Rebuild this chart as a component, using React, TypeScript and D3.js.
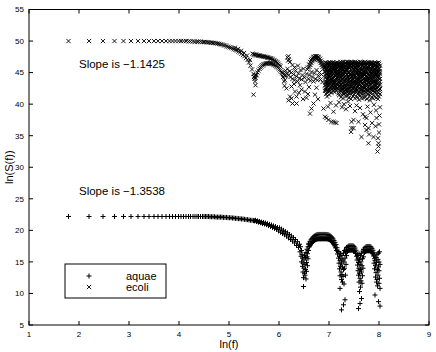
import React from 'react';
import * as d3 from 'd3';

const xTicks = [1, 2, 3, 4, 5, 6, 7, 8, 9];
const yTicks = [5, 10, 15, 20, 25, 30, 35, 40, 45, 50, 55];

// ---------- aquae (+) ----------
const aquaeFlat: number[][] = [
  [1.79, 22.2], [2.2, 22.2], [2.48, 22.2], [2.71, 22.2], [2.89, 22.2], [3.04, 22.2], [3.18, 22.2], [3.3, 22.2],
  [3.4, 22.2], [3.5, 22.2], [3.58, 22.2], [3.66, 22.2], [3.74, 22.2], [3.81, 22.2], [3.87, 22.2], [3.93, 22.2],
  [3.99, 22.2], [4.04, 22.2], [4.09, 22.2], [4.14, 22.2], [4.19, 22.2], [4.23, 22.2], [4.28, 22.2], [4.32, 22.2],
  [4.36, 22.2], [4.39, 22.2], [4.43, 22.2], [4.47, 22.2], [4.5, 22.2],
];
const aquaeKnee: number[][] = [
  [4.53, 22.2], [4.56, 22.2], [4.59, 22.2], [4.62, 22.15], [4.65, 22.15], [4.68, 22.15], [4.71, 22.15], [4.74, 22.1],
  [4.77, 22.1], [4.8, 22.1], [4.83, 22.1], [4.86, 22.1], [4.89, 22.05], [4.92, 22.05], [4.95, 22.05], [4.98, 22.0],
  [5.01, 22.0], [5.04, 22.0], [5.07, 21.95], [5.1, 21.95], [5.13, 21.9], [5.16, 21.9], [5.19, 21.85], [5.22, 21.85],
  [5.25, 21.8], [5.28, 21.8], [5.31, 21.75], [5.34, 21.7], [5.37, 21.7], [5.4, 21.65], [5.43, 21.6], [5.46, 21.6],
  [5.49, 21.55], [5.51, 21.5], [5.53, 21.6], [5.55, 21.4], [5.57, 21.5], [5.59, 21.3], [5.61, 21.4], [5.63, 21.2],
  [5.65, 21.3], [5.67, 21.1], [5.69, 21.25], [5.71, 21.0], [5.73, 21.15], [5.75, 20.9], [5.77, 21.05], [5.79, 20.75],
  [5.81, 20.95], [5.83, 20.6], [5.85, 20.85], [5.87, 20.45], [5.89, 20.7], [5.91, 20.3], [5.93, 20.6], [5.95, 20.15],
  [5.97, 20.45], [5.99, 19.9], [6.01, 20.4], [6.03, 19.7], [6.05, 20.2], [6.07, 19.5], [6.09, 20.0], [6.11, 19.3],
  [6.13, 19.8], [6.15, 19.1], [6.17, 19.6], [6.19, 18.8], [6.21, 19.35], [6.23, 18.55], [6.25, 19.1], [6.27, 18.3],
  [6.29, 18.85], [6.31, 18.0], [6.33, 18.55], [6.35, 17.6], [6.37, 18.2], [6.39, 17.3], [6.41, 17.8],
];
const aquaeDip1: number[][] = [
  [6.42, 16.6], [6.43, 17.4], [6.44, 15.9], [6.45, 16.8], [6.45, 15.0], [6.46, 16.2], [6.47, 14.3], [6.47, 15.6],
  [6.48, 13.4], [6.48, 14.8], [6.49, 11.1], [6.49, 12.5], [6.5, 14.0], [6.5, 15.3], [6.51, 13.2], [6.51, 16.0],
  [6.52, 12.9], [6.52, 14.6], [6.53, 15.7], [6.53, 13.8], [6.54, 12.3], [6.54, 16.5], [6.55, 14.9], [6.55, 13.5],
  [6.56, 15.8], [6.56, 17.0], [6.57, 14.4], [6.57, 16.3], [6.58, 17.4], [6.58, 15.5], [6.59, 16.8], [6.59, 17.8],
];
const aquaeArch1: number[][] = [
  [6.6, 17.95], [6.61, 17.4], [6.62, 18.25], [6.63, 17.68], [6.64, 18.5], [6.65, 17.9], [6.66, 18.7], [6.67, 18.1],
  [6.68, 18.9], [6.69, 18.27], [6.7, 19.05], [6.71, 18.4], [6.72, 19.15], [6.73, 18.5], [6.74, 19.25], [6.75, 18.57],
  [6.76, 19.3], [6.77, 18.62], [6.78, 19.35], [6.79, 18.65], [6.8, 19.35], [6.81, 18.65], [6.82, 19.35], [6.83, 18.65],
  [6.84, 19.35], [6.85, 18.65], [6.86, 19.35], [6.87, 18.65], [6.88, 19.35], [6.89, 18.65], [6.9, 19.35], [6.91, 18.65],
  [6.92, 19.35], [6.93, 18.65], [6.94, 19.35], [6.95, 18.65], [6.96, 19.33], [6.97, 18.62], [6.98, 19.3], [6.99, 18.57],
  [7.0, 19.25], [7.01, 18.5], [7.02, 19.15], [7.03, 18.37], [7.04, 19.0], [7.05, 18.23], [7.06, 18.85], [7.07, 18.05],
  [7.08, 18.65], [7.09, 17.83], [7.1, 18.4], [7.11, 17.55], [7.12, 18.1], [7.13, 17.23], [7.14, 17.75], [7.15, 16.8],
  [7.16, 17.25], [7.17, 16.25], [7.18, 16.65],
];
const aquaeDip2: number[][] = [
  [7.19, 15.6], [7.2, 16.6], [7.2, 14.8], [7.21, 15.9], [7.21, 13.9], [7.22, 15.2], [7.22, 12.8], [7.22, 10.8],
  [7.23, 14.3], [7.23, 16.3], [7.24, 13.4], [7.24, 15.5], [7.25, 7.4], [7.25, 12.2], [7.25, 14.8], [7.26, 13.0],
  [7.26, 16.0], [7.27, 11.8], [7.27, 14.2], [7.28, 15.3], [7.28, 12.7], [7.29, 8.2], [7.29, 13.8], [7.29, 16.4],
  [7.3, 11.5], [7.3, 15.0], [7.31, 14.0], [7.31, 16.8], [7.32, 9.0], [7.32, 15.6], [7.33, 12.9], [7.33, 16.5],
  [7.34, 14.6], [7.34, 17.0], [7.35, 16.0], [7.35, 17.3],
];
const aquaeArch2: number[][] = [
  [7.36, 17.25], [7.37, 16.65], [7.38, 17.45], [7.39, 16.8], [7.4, 17.55], [7.41, 16.85], [7.42, 17.55], [7.43, 16.85],
  [7.44, 17.55], [7.45, 16.85], [7.46, 17.55], [7.47, 16.85], [7.48, 17.55], [7.49, 16.8], [7.5, 17.45], [7.51, 16.65],
  [7.52, 17.2], [7.53, 16.35], [7.54, 16.85], [7.55, 15.9], [7.56, 16.3],
];
const aquaeDip3: number[][] = [
  [7.56, 15.3], [7.57, 16.1], [7.57, 14.5], [7.58, 15.6], [7.58, 13.6], [7.59, 7.6], [7.59, 12.9], [7.59, 14.9],
  [7.6, 16.3], [7.6, 11.8], [7.6, 14.0], [7.61, 10.3], [7.61, 13.2], [7.61, 15.4], [7.62, 8.4], [7.62, 12.4],
  [7.62, 14.6], [7.63, 11.0], [7.63, 13.8], [7.63, 16.0], [7.64, 12.0], [7.64, 15.0], [7.65, 9.2], [7.65, 13.4],
  [7.65, 16.4], [7.66, 14.4], [7.66, 11.6], [7.67, 15.5], [7.67, 12.8], [7.68, 16.7], [7.68, 14.0], [7.69, 15.8],
  [7.69, 17.0],
];
const aquaeArch3: number[][] = [
  [7.7, 16.95], [7.71, 16.45], [7.72, 17.25], [7.73, 16.65], [7.74, 17.4], [7.75, 16.75], [7.76, 17.45], [7.77, 16.75],
  [7.78, 17.45], [7.79, 16.75], [7.8, 17.45], [7.81, 16.75], [7.82, 17.45], [7.83, 16.7], [7.84, 17.35], [7.85, 16.55],
  [7.86, 17.15], [7.87, 16.3], [7.88, 16.85], [7.89, 15.95], [7.9, 16.45], [7.91, 15.5], [7.92, 15.95],
];
const aquaeTail: number[][] = [
  [7.9, 14.8], [7.91, 13.9], [7.92, 15.2], [7.92, 9.75], [7.93, 14.4], [7.93, 12.6], [7.94, 15.7], [7.94, 13.3],
  [7.95, 11.8], [7.95, 14.9], [7.96, 16.2], [7.96, 12.2], [7.97, 13.8], [7.97, 11.2], [7.98, 15.4], [7.98, 12.9],
  [7.99, 8.7], [7.99, 14.2], [7.99, 16.4], [8.0, 11.6], [8.0, 13.6], [8.0, 15.0], [8.01, 12.4], [8.01, 16.6],
  [8.02, 8.0], [8.02, 14.6], [8.02, 10.8],
];

// ---------- ecoli (x) ----------
const ecoliFlat: number[][] = [
  [1.79, 50.0], [2.2, 50.0], [2.48, 50.0], [2.71, 50.0], [2.89, 50.0], [3.04, 50.0], [3.18, 50.0], [3.3, 50.0],
  [3.4, 50.0], [3.5, 50.0], [3.58, 50.0], [3.66, 50.0], [3.74, 50.0], [3.81, 50.0], [3.87, 50.0], [3.93, 50.0],
  [3.99, 50.0], [4.04, 50.0], [4.09, 50.0], [4.14, 50.0], [4.19, 49.95], [4.23, 49.95], [4.28, 49.95], [4.32, 49.9],
  [4.36, 49.9], [4.39, 49.9], [4.43, 49.9], [4.47, 49.85], [4.5, 49.85],
];
const ecoliKnee: number[][] = [
  [4.53, 49.85], [4.56, 49.8], [4.59, 49.8], [4.62, 49.75], [4.65, 49.75], [4.68, 49.7], [4.71, 49.7], [4.74, 49.65],
  [4.77, 49.6], [4.8, 49.55], [4.83, 49.5], [4.86, 49.45], [4.89, 49.35], [4.92, 49.3], [4.95, 49.2], [4.98, 49.1],
  [5.01, 49.0], [5.04, 48.95], [5.07, 48.85], [5.1, 48.7], [5.12, 48.95], [5.13, 48.6], [5.16, 48.5], [5.18, 48.75],
  [5.19, 48.35], [5.22, 48.2], [5.24, 48.45], [5.25, 48.0], [5.28, 47.8], [5.3, 48.1], [5.31, 47.6], [5.34, 47.3],
  [5.36, 47.7], [5.37, 47.0], [5.4, 46.6], [5.42, 47.0], [5.43, 46.1], [5.46, 45.5], [5.49, 44.8],
];
const ecoliDip: number[][] = [
  [5.5, 44.3], [5.51, 44.0], [5.52, 43.6], [5.52, 44.5], [5.53, 43.0], [5.49, 41.5], [5.53, 44.2], [5.54, 44.6],
];
const ecoliBranchA: number[][] = [
  [5.47, 48.0], [5.49, 47.9], [5.51, 47.85], [5.53, 47.8], [5.55, 47.8], [5.57, 47.75], [5.59, 47.7], [5.61, 47.7],
  [5.63, 47.65], [5.65, 47.6], [5.67, 47.6], [5.69, 47.55], [5.71, 47.5], [5.73, 47.5], [5.75, 47.45], [5.77, 47.4],
  [5.79, 47.35], [5.81, 47.3], [5.83, 47.25], [5.85, 47.2], [5.87, 47.1], [5.89, 47.0], [5.91, 46.9], [5.93, 46.8],
  [5.95, 46.7], [5.97, 46.55], [5.99, 46.4], [6.01, 46.2], [6.03, 46.0],
];
const ecoliBranchB: number[][] = [
  [5.55, 44.6], [5.57, 45.0], [5.59, 45.3], [5.61, 45.6], [5.63, 45.8], [5.65, 46.0], [5.67, 46.15], [5.69, 46.25],
  [5.71, 46.35], [5.73, 46.4], [5.75, 46.45], [5.77, 46.5], [5.79, 46.5], [5.81, 46.5], [5.83, 46.45], [5.85, 46.4],
  [5.87, 46.35], [5.89, 46.3], [5.91, 46.2], [5.93, 46.1], [5.95, 46.0], [5.97, 45.85], [5.99, 45.7], [6.01, 45.5],
  [6.03, 45.3], [6.05, 45.1], [6.07, 44.9], [6.09, 44.7], [6.11, 44.5],
];
const ecoliMid: number[][] = [
  [6.17, 47.4], [6.19, 47.6], [6.2, 47.1], [6.22, 46.7], [6.18, 46.9], [6.06, 45.0], [6.08, 44.3], [6.1, 43.6],
  [6.11, 42.9], [6.12, 43.8], [6.14, 44.5], [6.13, 45.3], [6.15, 44.9], [6.17, 45.6], [6.19, 44.6], [6.21, 45.2],
  [6.23, 44.3], [6.25, 45.0], [6.27, 44.0], [6.29, 44.7], [6.31, 43.8], [6.33, 45.3], [6.35, 44.4], [6.37, 43.6],
  [6.39, 44.9], [6.41, 44.1], [6.43, 45.4], [6.45, 43.9], [6.47, 44.6], [6.49, 45.6], [6.51, 44.2], [6.53, 43.5],
  [6.55, 44.8], [6.57, 45.5], [6.59, 44.0], [6.61, 44.6], [6.63, 43.7], [6.65, 45.1], [6.67, 44.3], [6.69, 43.6],
  [6.71, 44.9], [6.73, 44.0], [6.75, 45.4], [6.77, 43.8], [6.79, 44.5], [6.81, 45.0], [6.83, 43.9], [6.85, 44.7],
  [6.87, 43.5], [6.15, 42.5], [6.25, 42.8], [6.22, 41.2], [6.32, 42.0], [6.35, 41.2], [6.35, 40.1], [6.52, 42.0],
  [6.69, 40.1], [6.65, 39.3], [6.62, 38.5], [6.19, 40.6], [6.25, 40.9], [6.27, 40.1], [6.42, 43.0], [6.45, 42.3],
  [6.58, 41.6], [6.6, 42.7], [6.3, 43.2], [6.4, 41.8], [6.48, 40.8], [6.55, 41.0], [6.72, 41.5], [6.75, 42.6],
  [6.78, 40.8], [6.27, 46.2], [6.31, 45.8], [6.38, 46.1],
];
const ecoliBlob: number[][] = [
  [6.58, 45.8], [6.6, 46.3], [6.61, 45.9], [6.62, 46.7], [6.63, 46.2], [6.64, 47.0], [6.65, 46.5], [6.66, 47.2],
  [6.67, 46.8], [6.68, 47.4], [6.69, 47.0], [6.7, 47.5], [6.71, 47.1], [6.72, 47.6], [6.73, 47.2], [6.74, 47.6],
  [6.75, 47.3], [6.76, 47.6], [6.77, 47.2], [6.78, 47.5], [6.79, 47.0], [6.8, 47.4], [6.81, 46.8], [6.82, 47.2],
  [6.83, 46.5], [6.84, 46.9], [6.85, 46.2], [6.86, 46.6], [6.87, 45.9], [6.88, 46.3], [6.89, 45.6], [6.9, 46.0],
];
// dense cloud: each row is [ln f, S values read in that narrow frequency column]
const ecoliCloud: [number, number[]][] = [
  [6.92, [46.4, 45.1, 44.2, 43.0, 42.1, 45.7]], [6.93, [45.9, 44.6, 43.4, 42.3, 46.6]],
  [6.94, [46.2, 44.8, 43.6, 42.5, 45.5, 41.6]], [6.95, [45.6, 44.3, 43.1, 46.1, 42.6]],
  [6.96, [46.5, 45.3, 44.0, 42.8, 43.5, 41.2]], [6.97, [46.3, 45.0, 43.9, 42.2, 44.8]],
  [6.98, [46.0, 44.6, 43.2, 45.8, 42.0, 44.1]], [6.99, [45.4, 44.4, 42.9, 46.5, 43.6]],
  [7.0, [46.6, 45.0, 43.8, 42.4, 44.5, 41.5]], [7.01, [46.1, 44.2, 43.3, 45.3, 42.0]],
  [7.02, [46.3, 45.6, 44.3, 43.1, 42.2, 46.0]], [7.03, [45.8, 44.7, 43.8, 42.5, 46.6]],
  [7.04, [46.5, 44.9, 43.5, 45.4, 42.7, 44.0]], [7.05, [46.4, 45.1, 43.0, 44.4, 41.8]],
  [7.06, [46.1, 45.2, 44.6, 43.3, 42.9, 45.8]], [7.07, [45.5, 44.0, 46.6, 43.6, 42.4]],
  [7.08, [46.6, 45.5, 44.1, 43.7, 42.5, 46.2]], [7.09, [46.0, 44.9, 43.2, 45.6, 42.1]],
  [7.1, [46.2, 44.7, 45.9, 43.4, 42.8, 44.3]], [7.11, [46.4, 45.3, 44.2, 43.5, 41.9]],
  [7.12, [46.5, 45.1, 44.5, 43.0, 45.6, 42.4]], [7.13, [45.7, 44.6, 43.4, 46.2, 42.7]],
  [7.14, [46.0, 45.4, 44.0, 43.6, 42.9, 46.4]], [7.15, [46.5, 45.0, 43.9, 42.2, 44.7]],
  [7.16, [46.6, 44.8, 45.7, 43.2, 42.6, 44.2]], [7.17, [45.9, 44.4, 43.0, 46.3, 42.5]],
  [7.18, [46.3, 45.3, 44.4, 43.8, 42.3, 45.0]], [7.19, [46.2, 45.5, 43.6, 44.9, 41.7]],
  [7.2, [46.5, 45.9, 44.7, 43.5, 42.8, 41.4]], [7.21, [45.6, 44.5, 43.3, 46.4, 42.9]],
  [7.22, [46.1, 45.0, 44.1, 43.0, 45.5, 42.2]], [7.23, [46.7, 45.2, 43.7, 42.6, 44.3]],
  [7.24, [46.6, 45.6, 44.6, 43.7, 42.0, 41.1]], [7.25, [45.8, 44.8, 43.1, 46.0, 42.3]],
  [7.26, [46.2, 44.9, 45.3, 43.3, 42.6, 41.5]], [7.27, [46.4, 45.7, 44.0, 42.8, 43.9]],
  [7.28, [46.7, 45.4, 44.2, 43.9, 42.4, 40.9]], [7.29, [45.5, 44.6, 43.5, 46.2, 41.8]],
  [7.3, [46.3, 45.8, 44.8, 43.4, 42.1, 41.6]], [7.31, [46.0, 44.3, 43.0, 45.2, 42.6]],
  [7.32, [46.5, 45.1, 44.4, 43.0, 41.8, 42.7]], [7.33, [46.6, 45.4, 43.8, 42.3, 44.9]],
  [7.34, [46.0, 45.6, 44.0, 43.6, 42.3, 41.2]], [7.35, [45.7, 44.7, 43.3, 46.4, 42.0]],
  [7.36, [46.7, 45.3, 44.7, 43.2, 41.9, 42.8]], [7.37, [46.2, 45.9, 44.2, 43.7, 42.4]],
  [7.38, [46.4, 45.0, 44.3, 43.8, 42.5, 41.4]], [7.39, [45.8, 44.5, 43.1, 46.6, 41.7]],
  [7.4, [46.6, 45.7, 44.9, 43.5, 42.0, 41.0]], [7.41, [46.1, 45.0, 43.9, 42.7, 44.4]],
  [7.42, [46.2, 45.2, 44.1, 43.1, 42.6, 41.7]], [7.43, [46.5, 44.8, 43.6, 45.9, 42.2]],
  [7.44, [46.7, 45.5, 44.6, 43.7, 42.2, 40.8]], [7.45, [45.9, 44.3, 43.2, 46.3, 42.8]],
  [7.46, [46.3, 45.9, 44.4, 43.3, 41.8, 42.9]], [7.47, [46.6, 45.1, 44.0, 42.5, 43.8]],
  [7.48, [46.6, 45.0, 44.8, 43.9, 42.4, 41.3]], [7.49, [45.6, 44.6, 43.4, 46.1, 42.0]],
  [7.5, [46.1, 45.4, 44.2, 43.4, 42.7, 41.5]], [7.51, [46.4, 45.6, 43.7, 42.9, 44.5]],
  [7.52, [46.7, 45.8, 44.5, 43.0, 42.1, 40.9]], [7.53, [45.9, 44.9, 43.3, 46.5, 42.4]],
  [7.54, [46.4, 45.2, 44.9, 43.6, 41.9, 42.6]], [7.55, [46.2, 44.4, 43.9, 45.5, 42.2]],
  [7.56, [46.6, 45.5, 44.0, 43.2, 42.3, 41.1]], [7.57, [45.7, 45.0, 43.5, 46.4, 42.7]],
  [7.58, [46.2, 45.9, 44.6, 43.8, 42.8, 41.6]], [7.59, [46.5, 44.7, 43.1, 45.3, 41.8]],
  [7.6, [46.5, 45.1, 44.3, 43.4, 42.0, 40.7]], [7.61, [46.0, 45.7, 44.1, 42.6, 43.9]],
  [7.62, [46.7, 45.6, 44.7, 43.1, 42.5, 41.3]], [7.63, [45.8, 44.5, 43.6, 46.3, 42.2]],
  [7.64, [46.3, 45.0, 44.2, 43.7, 41.8, 42.9]], [7.65, [46.6, 45.3, 43.3, 44.6, 42.4]],
  [7.66, [46.6, 45.4, 44.8, 43.3, 42.2, 40.9]], [7.67, [45.6, 44.8, 43.8, 46.1, 42.8]],
  [7.68, [46.1, 45.8, 44.4, 43.9, 42.6, 41.5]], [7.69, [46.4, 45.2, 43.0, 44.7, 41.9]],
  [7.7, [46.5, 45.2, 44.0, 43.5, 42.1, 41.0]], [7.71, [45.9, 44.6, 43.4, 46.6, 42.5]],
  [7.72, [46.7, 45.7, 44.6, 43.0, 42.7, 41.4]], [7.73, [46.2, 45.0, 43.9, 42.3, 44.4]],
  [7.74, [46.2, 45.3, 44.9, 43.6, 41.9, 42.4]], [7.75, [46.5, 44.5, 43.2, 45.8, 42.8]],
  [7.76, [46.6, 45.0, 44.3, 43.2, 42.3, 40.8]], [7.77, [45.7, 45.5, 43.7, 42.6, 44.1]],
  [7.78, [46.4, 45.9, 44.7, 43.8, 42.0, 41.6]], [7.79, [46.1, 44.8, 43.4, 46.6, 42.2]],
  [7.8, [46.0, 45.5, 44.1, 43.4, 42.8, 41.2]], [7.81, [46.5, 45.2, 43.9, 42.5, 44.6]],
  [7.82, [46.6, 45.1, 44.5, 43.1, 42.4, 40.6]], [7.83, [45.8, 44.4, 43.3, 46.2, 41.7]],
  [7.84, [46.3, 45.6, 44.8, 43.7, 41.8, 42.2]], [7.85, [46.6, 45.0, 44.0, 42.7, 43.5]],
  [7.86, [46.5, 45.2, 44.0, 43.3, 42.6, 41.1]], [7.87, [45.9, 45.7, 44.3, 46.4, 42.3]],
  [7.88, [46.1, 45.8, 44.4, 43.9, 42.1, 40.9]], [7.89, [46.4, 44.6, 43.6, 45.1, 42.7]],
  [7.9, [46.4, 45.3, 44.7, 43.5, 42.5, 41.4]], [7.91, [45.6, 44.9, 43.2, 46.1, 41.9]],
  [7.92, [46.6, 45.0, 44.2, 43.0, 41.9, 42.8]], [7.93, [46.2, 45.4, 43.8, 42.4, 44.5]],
  [7.94, [46.2, 45.7, 44.6, 43.6, 42.3, 41.0]], [7.95, [46.5, 44.7, 43.4, 45.9, 42.6]],
  [7.96, [46.5, 45.4, 44.9, 43.2, 42.0, 41.5]], [7.97, [45.8, 45.1, 43.9, 42.8, 44.2]],
  [7.98, [46.0, 45.1, 44.3, 43.8, 42.7, 40.8]], [7.99, [46.3, 44.5, 43.0, 46.6, 41.8]],
  [8.0, [46.4, 45.6, 44.5, 43.4, 42.2, 41.2]], [8.01, [45.7, 45.2, 43.6, 42.5, 44.8]],
  [8.02, [46.1, 45.0, 44.0, 43.1, 42.4, 41.6]],
];
const ecoliScatter: number[][] = [
  [6.89, 39.3], [6.92, 38.0], [6.95, 37.8], [6.99, 37.5], [7.05, 37.2], [7.09, 38.8], [7.09, 37.2], [7.12, 37.1],
  [7.15, 37.0], [6.98, 39.6], [7.03, 40.2], [7.14, 39.8], [7.2, 40.3], [7.26, 39.5], [7.3, 40.0], [7.34, 39.2],
  [7.38, 40.4], [7.42, 39.7], [7.45, 37.2], [7.45, 36.2], [7.44, 35.6], [7.49, 37.5], [7.49, 36.2], [7.52, 38.9],
  [7.55, 39.8], [7.59, 37.2], [7.62, 39.4], [7.65, 34.8], [7.68, 38.4], [7.72, 38.0], [7.72, 36.7], [7.75, 37.8],
  [7.75, 35.9], [7.77, 39.6], [7.79, 36.2], [7.79, 33.8], [7.8, 35.2], [7.83, 38.7], [7.86, 37.0], [7.89, 34.8],
  [7.9, 39.9], [7.93, 36.5], [7.95, 37.8], [7.97, 32.5], [7.99, 33.3], [7.99, 33.8], [8.0, 35.5], [8.01, 38.2],
  [8.0, 36.8], [8.02, 39.5], [7.98, 34.6], [7.94, 39.0],
];

const FONT = "'Liberation Sans', Arial, Helvetica, sans-serif";

export default function App() {
  const x = d3.scaleLinear().domain([1, 9]).range([29, 429]);
  const y = d3.scaleLinear().domain([5, 55]).range([325, 9.5]);

  const aquae = [
    ...aquaeFlat, ...aquaeKnee, ...aquaeDip1, ...aquaeArch1, ...aquaeDip2,
    ...aquaeArch2, ...aquaeDip3, ...aquaeArch3, ...aquaeTail,
  ];
  const ecoli: number[][] = [
    ...ecoliFlat, ...ecoliKnee, ...ecoliDip, ...ecoliBranchA, ...ecoliBranchB,
    ...ecoliMid, ...ecoliBlob, ...ecoliScatter,
  ];
  ecoliCloud.forEach(([f, ys]) => ys.forEach((s) => ecoli.push([f, s])));

  const plus = (px: number, py: number, r: number) =>
    `M${(px - r).toFixed(2)},${py.toFixed(2)}h${2 * r}M${px.toFixed(2)},${(py - r).toFixed(2)}v${2 * r}`;
  const cross = (px: number, py: number, r: number) =>
    `M${(px - r).toFixed(2)},${(py - r).toFixed(2)}l${2 * r},${2 * r}M${(px - r).toFixed(2)},${(py + r).toFixed(2)}l${2 * r},${-2 * r}`;

  const aquaePath = aquae.map(([a, b]) => plus(x(a), y(b), 2.5)).join('');
  const ecoliPath = ecoli.map(([a, b]) => cross(x(a), y(b), 2.1)).join('');

  const [x0, x1] = x.range();
  const [y0, y1] = y.range();
  const tl = 4;

  return (
    <svg width={436} height={352} style={{ position: 'absolute', left: 0, top: 0, background: '#fff' }}
      fontFamily={FONT}>
      <rect x={0} y={0} width={436} height={352} fill="#fff" />
      <path d={ecoliPath} stroke="#000" strokeWidth={0.9} fill="none" />
      <path d={aquaePath} stroke="#000" strokeWidth={1} fill="none" />
      {/* axes box */}
      <rect x={x0} y={y1} width={x1 - x0} height={y0 - y1} fill="none" stroke="#000" strokeWidth={1} />
      {xTicks.map((t) => (
        <g key={'x' + t}>
          <line x1={x(t)} x2={x(t)} y1={y0} y2={y0 - tl} stroke="#000" />
          <line x1={x(t)} x2={x(t)} y1={y1} y2={y1 + tl} stroke="#000" />
          <text x={x(t)} y={337} fontSize={8} textAnchor="middle">{t}</text>
        </g>
      ))}
      {yTicks.map((t) => (
        <g key={'y' + t}>
          <line x1={x0} x2={x0 + tl} y1={y(t)} y2={y(t)} stroke="#000" />
          <line x1={x1} x2={x1 - tl} y1={y(t)} y2={y(t)} stroke="#000" />
          <text x={24} y={y(t)} dy="0.35em" fontSize={8} textAnchor="end">{t}</text>
        </g>
      ))}
      <text x={229} y={348} fontSize={11} textAnchor="middle">ln(f)</text>
      <text transform={`translate(13,${(y0 + y1) / 2}) rotate(-90)`} fontSize={11} textAnchor="middle">ln(S(f))</text>
      <text x={79} y={68} fontSize={11.5}>Slope is −1.1425</text>
      <text x={79} y={195} fontSize={11.5}>Slope is −1.3538</text>
      {/* legend */}
      <rect x={65} y={264} width={101} height={34} fill="#fff" stroke="#000" strokeWidth={1} />
      <path d={plus(89, 276, 2.5)} stroke="#000" strokeWidth={1} />
      <path d={cross(89, 287, 2.1)} stroke="#000" strokeWidth={0.9} />
      <text x={126} y={280} fontSize={11}>aquae</text>
      <text x={126} y={291} fontSize={11}>ecoli</text>
    </svg>
  );
}
